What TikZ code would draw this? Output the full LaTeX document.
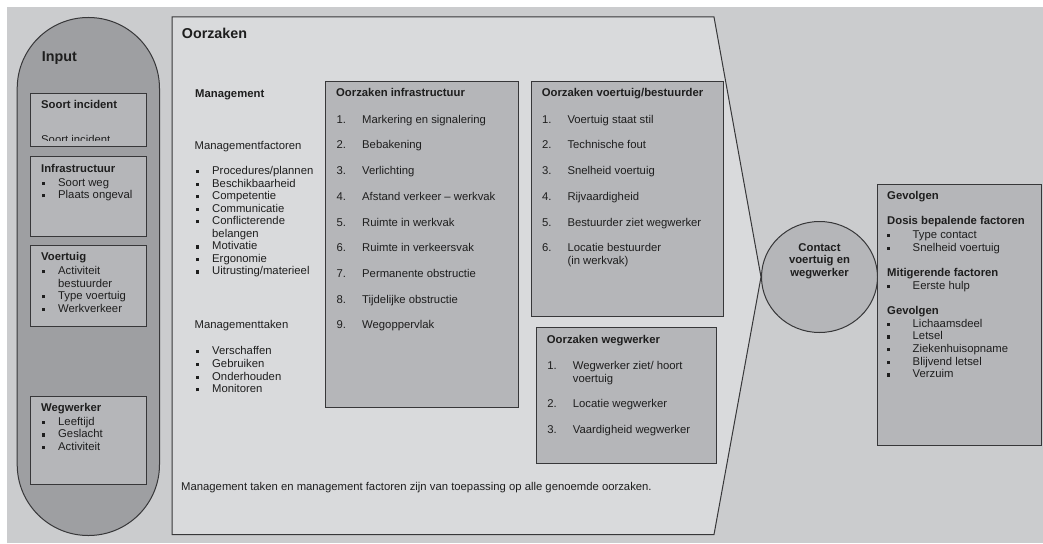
\documentclass[tikz,border=0pt]{standalone}
\usepackage{fontspec}
\setmainfont{Liberation Sans}
\usetikzlibrary{shapes.geometric}
\definecolor{bgOuter}{RGB}{203,204,206}
\definecolor{bgCause}{RGB}{217,218,220}
\definecolor{capsule}{RGB}{158,159,162}
\definecolor{boxFill}{RGB}{181,182,185}
\definecolor{edge}{RGB}{55,55,57}
\definecolor{ink}{RGB}{30,30,30}
\newcommand\fs{\fontsize{11.3}{12.7}\selectfont}
\newcommand\bul[1][16pt]{\llap{\makebox[#1][l]{\rule[1.3pt]{3.2pt}{3.2pt}}}}
\newcommand\gbul{\hspace*{25.5pt}\bul[25.5pt]}
\newcommand\nr[1]{\llap{\makebox[25.5pt][l]{#1.}}}

\begin{document}
\begin{tikzpicture}[x=1pt, y=-1pt,
  txt/.style={anchor=base west, inner sep=0pt, font=\fs, text=ink},
  ttl/.style={txt, font=\fs\bfseries},
  big/.style={txt, font=\fontsize{14.3}{16}\selectfont\bfseries},
  box/.style={draw=edge, fill=boxFill, line width=1pt, anchor=north west, inner sep=0pt}]
  \useasboundingbox (0,0) rectangle (1043,543);
  \fill[white] (0,0) rectangle (1043,543);
  \fill[bgOuter] (7,7) rectangle (1043,543);

  % Input column
  \node[draw=edge, fill=capsule, line width=1pt, rounded corners=71pt, anchor=north west,
    inner sep=0pt, minimum width=142.3pt, minimum height=518pt] (input) at (16.7,17) {};
  \node[big] (inputT) at (41.7,61) {Input};

  \node[box, minimum width=116pt, minimum height=53pt] (soort) at (30,93) {};
  \node[box, minimum width=116pt, minimum height=80pt] (infraIn) at (30,156) {};
  \node[box, minimum width=116pt, minimum height=81pt] (voertIn) at (30,245) {};
  \node[box, minimum width=116pt, minimum height=88pt] (wegIn) at (30,396) {};

  \node[ttl] (soortT) at (41,108.8) {Soort incident};
  \begin{scope}
    \clip (30,93) rectangle (146,140.5);
    \node[txt] (soortX) at (41,143.5) {Soort incident};
  \end{scope}
  \node[ttl] (infraInT) at (41,172.1) {Infrastructuur};
  \foreach \t [count=\k] in {\bul Soort weg, \bul Plaats ongeval}
    \node[txt] (infraIn\k) at (58,173.4+12.6*\k) {\t};
  \node[ttl] (voertInT) at (41,260.8) {Voertuig};
  \foreach \t [count=\k] in {\bul Activiteit, bestuurder, \bul Type voertuig, \bul Werkverkeer}
    \node[txt] (voertIn\k) at (58,262.1+12.5*\k) {\t};
  \node[ttl] (wegInT) at (41,411.5) {Wegwerker};
  \foreach \t [count=\k] in {\bul Leeftijd, \bul Geslacht, \bul Activiteit}
    \node[txt] (wegIn\k) at (58,412.4+12.7*\k) {\t};

  % Oorzaken
  \coordinate (tip) at (761,277);
  \draw[edge, fill=bgCause, line width=1pt]
    (172,17) -- (714,17) -- (tip) -- (714,534.5) -- (172,534.5) -- cycle;
  \node[big] (oorzT) at (181.7,38.5) {Oorzaken};

  \node[ttl] (mgmt) at (195,97.1) {Management};
  \node[txt] (mfac) at (194.5,149.8) {Managementfactoren};
  \foreach \t [count=\k] in {\bul Procedures/plannen, \bul Beschikbaarheid, \bul Competentie,
      \bul Communicatie, \bul Conflicterende, belangen, \bul Motivatie, \bul Ergonomie,
      \bul Uitrusting/materieel}
    \node[txt] (mfac\k) at (212,161.95+12.55*\k) {\t};
  \node[txt] (mtak) at (194.5,328.8) {Managementtaken};
  \foreach \t [count=\k] in {\bul Verschaffen, \bul Gebruiken, \bul Onderhouden, \bul Monitoren}
    \node[txt] (mtak\k) at (212,341.75+12.75*\k) {\t};

  \node[box, minimum width=193pt, minimum height=326pt] (infra) at (325,81) {};
  \node[ttl] (infraT) at (336,96.5) {Oorzaken infrastructuur};
  \foreach \t [count=\k] in {Markering en signalering, Bebakening, Verlichting,
      Afstand verkeer -- werkvak, Ruimte in werkvak, Ruimte in verkeersvak,
      Permanente obstructie, Tijdelijke obstructie, Wegoppervlak}
    \node[txt] (infra\k) at (362,97.37+25.73*\k) {\nr{\k}\t};

  \node[box, minimum width=192pt, minimum height=235pt] (voert) at (531,81) {};
  \node[ttl] (voertT) at (541.7,96.5) {Oorzaken voertuig/bestuurder};
  \foreach \t [count=\k] in {Voertuig staat stil, Technische fout, Snelheid voertuig,
      Rijvaardigheid, Bestuurder ziet wegwerker, Locatie bestuurder}
    \node[txt] (voert\k) at (567.3,97.37+25.75*\k) {\nr{\k}\t};
  \node[txt] (voert6b) at (567.3,264.8) {(in werkvak)};

  \node[box, minimum width=180pt, minimum height=136pt] (weg) at (536,327) {};
  \node[ttl] (wegT) at (546.7,343.1) {Oorzaken wegwerker};
  \node[txt] (weg1) at (572.7,369.1) {\nr{1}Wegwerker ziet/ hoort};
  \node[txt] (weg1b) at (572.7,382.1) {voertuig};
  \node[txt] (weg2) at (572.7,407.5) {\nr{2}Locatie wegwerker};
  \node[txt] (weg3) at (572.7,433.1) {\nr{3}Vaardigheid wegwerker};

  \node[txt] (note) at (181,490.5)
    {Management taken en management factoren zijn van toepassing op alle genoemde oorzaken.};

  % Contact
  \node[ellipse, draw=edge, fill=boxFill, line width=1pt, anchor=west, inner sep=0pt,
    minimum width=116pt, minimum height=111pt] (contact) at (tip) {};
  \node[font=\fs\bfseries, text=ink, align=center, inner sep=0pt] (contactT)
    at ([yshift=16pt]contact.center) {Contact\\voertuig en\\wegwerker};

  % Gevolgen
  \node[box, minimum width=164pt, minimum height=261pt] (gev) at (877,184) {};
  \foreach \y/\t [count=\k] in {199.4/\textbf{Gevolgen}, 224.9/\textbf{Dosis bepalende factoren},
      238.2/\gbul Type contact, 251.2/\gbul Snelheid voertuig,
      276/\textbf{Mitigerende factoren}, 289.3/\gbul Eerste hulp,
      314.2/\textbf{Gevolgen}, 327.2/\gbul Lichaamsdeel, 339.8/\gbul Letsel,
      352.4/\gbul Ziekenhuisopname, 365.3/\gbul Blijvend letsel, 377.9/\gbul Verzuim}
    \node[txt] (gev\k) at (887,\y) {\t};
\end{tikzpicture}
\end{document}
